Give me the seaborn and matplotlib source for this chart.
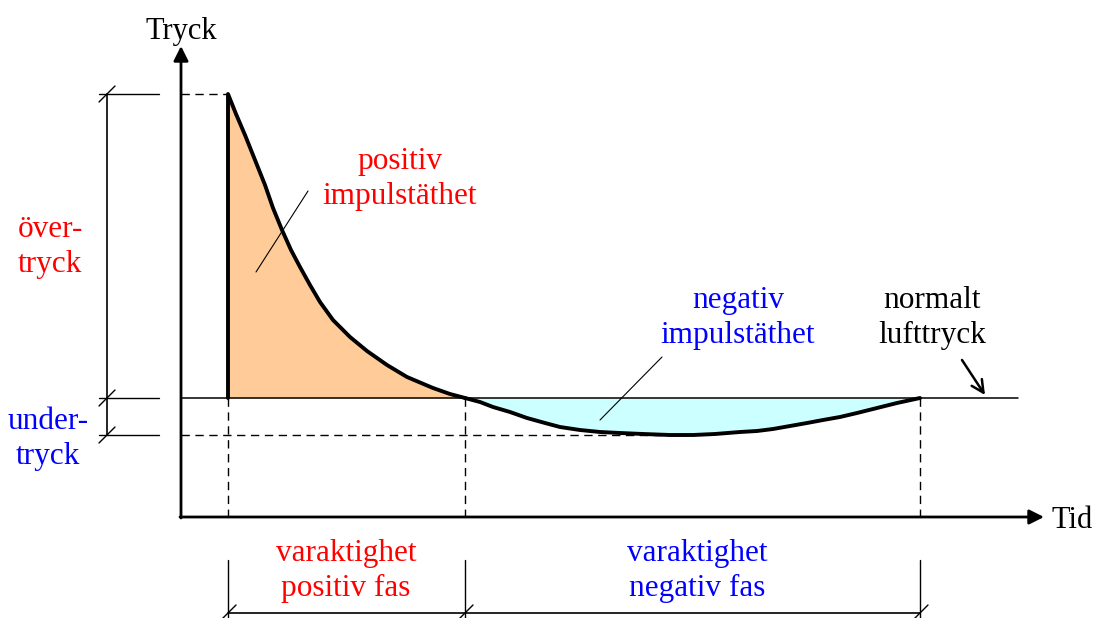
import numpy as np
import pandas as pd
import matplotlib
matplotlib.use('Agg')
import matplotlib.pyplot as plt
import seaborn as sns

# Tryckförlopp vid en stötvåg (godtyckliga enheter, 0 = normalt lufttryck)
pos_t = [0, 0, 8, 17, 27, 37, 45, 54, 63, 72, 82, 92, 105, 122, 139, 159, 179, 205, 222, 237]
pos_p = [0, 304, 284, 263, 238, 213, 190, 168, 148, 131, 113, 96, 78, 61, 47, 33, 21, 10, 4, 0]

neg_t = [237, 252, 265, 282, 299, 317, 332, 352, 372, 392, 415, 442, 465,
         487, 512, 529, 545, 562, 579, 595, 612, 629, 645, 669, 692]
neg_p = [0, -4, -9, -14, -20, -25, -29, -32, -34, -35, -36, -37, -37,
         -36, -34, -33, -31, -28, -25, -22, -19, -15, -11, -5, 0]

RED = '#FF0000'
BLUE = '#0000FF'

sns.set_style('white')
plt.rcParams['font.family'] = ['Liberation Serif', 'DejaVu Serif']
plt.rcParams['text.color'] = 'black'

pos = pd.DataFrame({'t': pos_t, 'p': pos_p})
neg = pd.DataFrame({'t': neg_t, 'p': neg_p})

t_pos_end = pos['t'].iloc[-1]
t_neg_end = neg['t'].iloc[-1]
p_peak = pos['p'].max()
p_min = neg['p'].min()
t_min = neg['t'][neg['p'] == p_min].mean()

fig = plt.figure(figsize=(10.96, 6.18), dpi=100)
ax = fig.add_axes([0, 0, 1, 1])
ax.set_xlim(-228, 868)
ax.set_ylim(-220, 398)
ax.axis('off')

# origo for the drawn axes
t0, p0 = -47, -119

# fills
ax.fill_between(pos['t'], pos['p'], 0, color='#FFCC99', lw=0, zorder=1)
ax.fill_between(neg['t'], neg['p'], 0, color='#CCFFFF', lw=0, zorder=1)

# normal air pressure line
ax.plot([t0, 790], [0, 0], color='black', lw=1.1, zorder=2)

# pressure curve
for df in [pos, neg]:
    sns.lineplot(data=df, x='t', y='p', sort=False, estimator=None,
                 color='black', lw=2.8, ax=ax, zorder=4,
                 solid_joinstyle='round', solid_capstyle='round')

# axes with arrows
arrow = dict(arrowstyle='-|>', color='black', lw=2.0, mutation_scale=22,
             shrinkA=0, shrinkB=0)
ax.annotate('', xy=(t0, 352), xytext=(t0, p0 - 1), arrowprops=arrow, zorder=5)
ax.annotate('', xy=(816, p0), xytext=(t0 - 1, p0), arrowprops=arrow, zorder=5)
ax.text(t0, 366, 'Tryck', fontsize=22, ha='center', va='center')
ax.text(844, p0 - 3, 'Tid', fontsize=22, ha='center', va='center')

# dashed helper lines
dash = dict(color='black', lw=1.0, ls=(0, (6, 4)), zorder=3)
ax.plot([t0, 0], [p_peak, p_peak], **dash)
ax.plot([t0, t_min], [p_min, p_min], **dash)
for t in [0, t_pos_end, t_neg_end]:
    ax.plot([t, t], [0, p0], **dash)
    ax.plot([t, t], [-162, -220], color='black', lw=1.0)

# bottom dimension line
ax.plot([0, t_neg_end], [-215, -215], color='black', lw=1.2)
for t in [0, t_pos_end, t_neg_end]:
    ax.plot([t - 8, t + 8], [-223, -207], color='black', lw=1.0)

# left dimension line
td = -121
ax.plot([td, td], [p_peak, p_min], color='black', lw=1.2)
for p in [p_peak, 0, p_min]:
    ax.plot([td - 8, -69], [p, p], color='black', lw=1.0)
    ax.plot([td - 8, td + 8], [p - 8, p + 8], color='black', lw=1.0)

# labels
fs = 22.5
ax.text(172, 219, 'positiv\nimpulstäthet', color=RED, fontsize=fs,
        ha='center', va='center', linespacing=1.25)
ax.plot([28, 80], [126, 207], color='black', lw=0.8, zorder=5)

ax.text(510, 80, 'negativ\nimpulstäthet', color=BLUE, fontsize=fs,
        ha='center', va='center', linespacing=1.25)
ax.plot([372, 434], [-22, 41], color='black', lw=0.8, zorder=5)

ax.text(704, 80, 'normalt\nlufttryck', color='black', fontsize=fs,
        ha='center', va='center', linespacing=1.25)
ax.annotate('', xy=(757, 3), xytext=(734, 38),
            arrowprops=dict(arrowstyle='->', color='black', lw=1.8,
                            mutation_scale=22, shrinkA=0, shrinkB=0))

ax.text(-178, 151, 'över-\ntryck', color=RED, fontsize=fs,
        ha='center', va='center', linespacing=1.25)
ax.text(-180, -41, 'under-\ntryck', color=BLUE, fontsize=fs,
        ha='center', va='center', linespacing=1.25)

ax.text(118, -173, 'varaktighet\npositiv fas', color=RED, fontsize=fs,
        ha='center', va='center', linespacing=1.25)
ax.text(469, -173, 'varaktighet\nnegativ fas', color=BLUE, fontsize=fs,
        ha='center', va='center', linespacing=1.25)

fig.savefig('out.png', dpi=100)
plt.close(fig)
